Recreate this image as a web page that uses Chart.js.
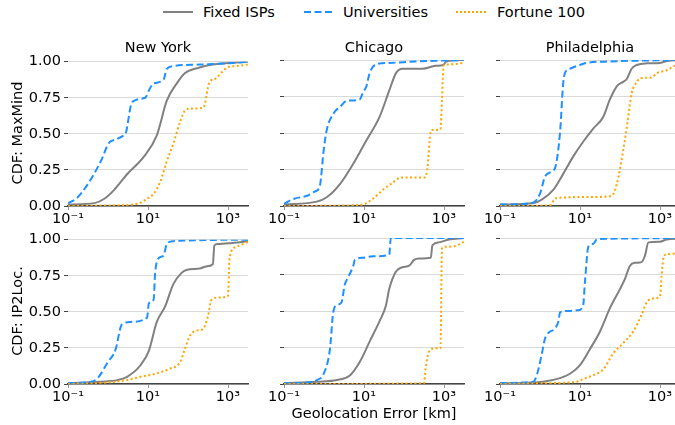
<!DOCTYPE html>
<html>
<head>
<meta charset="utf-8">
<script src="https://cdn.jsdelivr.net/npm/chart.js@4.4.1/dist/chart.umd.min.js"></script>
<style>
    body { margin: 0; width: 675px; height: 425px; overflow: hidden; background: #fff; position: relative; font-family: "DejaVu Sans", sans-serif; }
    canvas { position: absolute; }
    .txt { position: absolute; font-size: 14.5px; color: #000; white-space: nowrap; line-height: 1; transform: translate(-50%, -50%); }
    .ylab { transform: translate(-50%, -50%) rotate(-90deg); }
    .leg { position: absolute; font-size: 14.5px; color: #000; line-height: 1; top: 5px; white-space: nowrap; }
    svg.legline { position: absolute; top: 6px; }
</style>
</head>
<body>

<svg class="legline" style="left:163px" width="30" height="12"><line x1="0" y1="6" x2="30" y2="6" stroke="#808080" stroke-width="2"/></svg>
<div class="leg" style="left:203px">Fixed ISPs</div>
<svg class="legline" style="left:304px" width="30" height="12"><line x1="0" y1="6" x2="30" y2="6" stroke="#1e90ff" stroke-width="2" stroke-dasharray="7,3.5"/></svg>
<div class="leg" style="left:343px">Universities</div>
<svg class="legline" style="left:456px" width="30" height="12"><line x1="0" y1="6" x2="30" y2="6" stroke="#ffa500" stroke-width="2" stroke-dasharray="2,2"/></svg>
<div class="leg" style="left:497px">Fortune 100</div>

<script>
// Geolocation error CDFs: rows = database, columns = city
const cities = ['New York', 'Chicago', 'Philadelphia'];
const databases = ['MaxMind', 'IP2Loc.'];
const seriesNames = ['Fixed ISPs', 'Universities', 'Fortune 100'];
const xTickValues = [0.1, 10, 1000];
const xTickLabels = ['10⁻¹', '10¹', '10³'];
const yTickValues = [0, 0.25, 0.5, 0.75, 1];
const xMin = 0.1, xMax = 3162;

// [error km, CDF]
const nyMaxIsp = [[0.1,.01],[0.46,.02],[0.81,.05],[1.41,.11],[3.0,.22],[7.8,.34],[16.6,.49],[29.5,.73],[52.5,.85],[83,.92],[195,.96],[417,.98],[3162,1]];
const nyMaxUni = [[0.1,.02],[0.16,.05],[0.31,.15],[0.66,.31],[1.07,.44],[1.55,.46],[2.5,.49],[2.75,.5],[4.0,.72],[8.5,.75],[10.5,.8],[12.6,.84],[13.8,.85],[24.5,.875],[29.5,.95],[42.7,.97],[195,.98],[1070,.99],[3162,1]];
const nyMaxF100 = [[0.1,0],[1.7,.005],[5.4,.015],[9.5,.05],[13.8,.085],[20,.165],[29.5,.31],[42.7,.43],[63,.58],[83,.66],[112,.675],[240,.68],[347,.86],[468,.88],[955,.96],[1585,.97],[3162,.98]];

const chiMaxIsp = [[0.1,.01],[0.66,.03],[1.17,.06],[2.5,.15],[5.4,.29],[11.5,.45],[24.5,.61],[42.7,.79],[63,.91],[91,.94],[288,.94],[617,.96],[955,.966],[1150,.99],[3162,1]];
const chiMaxUni = [[0.1,.015],[0.18,.05],[0.38,.07],[0.6,.1],[0.79,.14],[0.98,.38],[1.17,.52],[1.7,.63],[2.75,.69],[3.6,.72],[7.8,.73],[9.5,.78],[11.5,.82],[13.8,.91],[20,.97],[42.7,.98],[195,.99],[617,.995],[3162,1]];
const chiMaxF100 = [[0.1,0],[5.4,.005],[10.5,.015],[16.6,.05],[29.5,.11],[52.5,.16],[83,.195],[316,.195],[380,.245],[457,.5],[500,.52],[813,.525],[891,.73],[977,.965],[1320,.97],[3162,.98]];

const phiMaxIsp = [[0.1,.01],[0.68,.02],[1.2,.05],[2.14,.11],[3.8,.22],[6.8,.34],[12,.44],[21.4,.53],[38,.61],[56,.73],[83,.82],[120,.85],[148,.87],[195,.94],[263,.966],[468,.977],[1000,.98],[1585,.995],[3162,1]];
const phiMaxUni = [[0.1,.01],[0.47,.015],[0.74,.03],[1.0,.085],[1.33,.2],[1.78,.23],[2.37,.26],[3.16,.5],[3.8,.84],[4.2,.91],[5.6,.94],[10,.966],[14.8,.98],[56,.99],[3162,1]];
const phiMaxF100 = [[0.1,0],[1.78,.005],[2.37,.05],[3.16,.057],[21.4,.062],[62,.07],[83,.15],[120,.38],[148,.54],[195,.77],[263,.85],[316,.875],[617,.88],[832,.91],[1480,.93],[2140,.955],[3162,.97]];

const nyIpIsp = [[0.1,.005],[0.66,.016],[1.7,.027],[3.0,.05],[6.5,.13],[10.5,.23],[16.6,.43],[27,.54],[42.7,.69],[69,.77],[91,.79],[195,.8],[288,.815],[417,.83],[457,.96],[550,.97],[1050,.975],[3162,.99]];
const nyIpUni = [[0.1,.005],[0.38,.016],[0.55,.04],[0.98,.15],[1.55,.24],[2.1,.4],[2.5,.42],[3.6,.43],[9.5,.46],[10.5,.56],[13.8,.585],[15.1,.77],[18.2,.87],[24.5,.89],[29.5,.97],[42.7,.99],[3162,1]];
const nyIpF100 = [[0.1,0],[0.46,.005],[3.0,.027],[6.5,.05],[16.6,.073],[35.5,.107],[63,.15],[83,.24],[112,.335],[162,.37],[234,.38],[316,.47],[380,.58],[617,.6],[1000,.61],[1100,.88],[1585,.95],[3162,.985]];

const chiIpIsp = [[0.1,.005],[0.66,.016],[2.1,.027],[4.5,.06],[7.8,.15],[13.8,.29],[24.5,.43],[35.5,.54],[42.7,.65],[63,.77],[91,.8],[135,.81],[178,.85],[240,.86],[468,.865],[513,.95],[741,.97],[1320,.99],[3162,1]];
const chiIpUni = [[0.1,.005],[0.38,.01],[0.66,.027],[0.98,.07],[1.41,.24],[1.7,.49],[2.1,.54],[2.75,.56],[3.3,.68],[4.0,.73],[5.4,.81],[5.9,.85],[9.5,.865],[16.6,.875],[42.7,.885],[46.8,1],[3162,1]];
const chiIpF100 = [[0.1,0],[316,.005],[347,.107],[417,.22],[617,.245],[813,.245],[891,.93],[1100,.94],[1900,.945],[3162,.975]];

const phiIpIsp = [[0.1,.005],[1.2,.016],[3.16,.04],[5.6,.07],[10,.13],[17.8,.24],[31.6,.36],[56,.52],[100,.65],[133,.72],[178,.81],[237,.83],[347,.835],[422,.88],[513,.97],[1000,.975],[1480,.99],[3162,.995]];
const phiIpUni = [[0.1,.005],[0.38,.01],[0.68,.016],[0.83,.06],[1.1,.2],[1.33,.31],[1.62,.35],[2.37,.38],[2.9,.43],[3.16,.49],[4.7,.5],[9.1,.505],[12,.54],[13.3,.7],[16.2,.94],[21.4,.96],[26.3,.99],[46.8,.995],[3162,1]];
const phiIpF100 = [[0.1,0],[1.2,.005],[8.3,.016],[12,.034],[21.4,.06],[38,.1],[68,.21],[120,.28],[214,.36],[347,.475],[468,.56],[676,.585],[1000,.6],[1100,.745],[1260,.88],[1780,.89],[3162,.9]];

const panels = [
    [nyMaxIsp, nyMaxUni, nyMaxF100], [chiMaxIsp, chiMaxUni, chiMaxF100], [phiMaxIsp, phiMaxUni, phiMaxF100],
    [nyIpIsp, nyIpUni, nyIpF100], [chiIpIsp, chiIpUni, chiIpF100], [phiIpIsp, phiIpUni, phiIpF100]
];

const cores = ['#808080', '#1e90ff', '#ffa500'];
const tracos = [[], [7, 3.5], [2, 2.5]];

// layout (px)
const plotLefts = [68, 284, 500];
const plotTops = [60, 238];
const plotW = 180, plotH = 146;
const padTop = 10, padRight = 12, padBottom = 32;
const fonte = { family: '"DejaVu Sans", sans-serif', size: 14.5 };

function addText(txt, cx, cy, cls) {
    const d = document.createElement('div');
    d.className = 'txt' + (cls ? ' ' + cls : '');
    d.textContent = txt;
    d.style.left = cx + 'px';
    d.style.top = cy + 'px';
    document.body.appendChild(d);
}

function criarPainel(row, col) {
    const padLeft = col === 0 ? 68 : 20;
    const cv = document.createElement('canvas');
    const w = padLeft + plotW + padRight, h = padTop + plotH + padBottom;
    cv.width = w; cv.height = h;
    cv.style.width = w + 'px'; cv.style.height = h + 'px';
    cv.style.left = (plotLefts[col] - padLeft) + 'px';
    cv.style.top = (plotTops[row] - padTop) + 'px';
    document.body.appendChild(cv);

    const dados = panels[row * 3 + col];
    new Chart(cv.getContext('2d'), {
        type: 'line',
        data: {
            datasets: dados.map((serie, i) => ({
                label: seriesNames[i],
                data: serie.map(p => ({ x: p[0], y: p[1] })),
                borderColor: cores[i],
                borderWidth: 2,
                borderDash: tracos[i],
                pointRadius: 0,
                cubicInterpolationMode: 'monotone',
                fill: false,
                order: 3 - i
            }))
        },
        options: {
            responsive: false,
            animation: false,
            events: [],
            layout: { padding: { top: padTop, right: padRight, left: 0, bottom: 0 } },
            plugins: { legend: { display: false }, tooltip: { enabled: false } },
            scales: {
                x: {
                    type: 'logarithmic',
                    min: xMin, max: xMax,
                    afterBuildTicks: s => { s.ticks = xTickValues.map(v => ({ value: v, major: true })); },
                    afterFit: s => { s.height = padBottom; },
                    ticks: {
                        autoSkip: false, maxRotation: 0, padding: 1,
                        color: '#000', font: fonte,
                        callback: v => xTickLabels[xTickValues.indexOf(v)]
                    },
                    grid: { drawOnChartArea: false, drawTicks: true, tickLength: 4, tickColor: '#999' },
                    border: { display: true, color: '#444', width: 1.5 }
                },
                y: {
                    min: 0, max: 1,
                    afterBuildTicks: s => { s.ticks = yTickValues.map(v => ({ value: v })); },
                    afterFit: s => { s.width = padLeft; },
                    ticks: {
                        display: col === 0, padding: 3,
                        color: '#000', font: fonte,
                        callback: v => v.toFixed(2)
                    },
                    grid: { color: '#d9d9d9', lineWidth: 1, drawTicks: true, tickLength: 4, tickColor: '#444' },
                    border: { display: false }
                }
            }
        }
    });
}

for (let r = 0; r < 2; r++) {
    for (let c = 0; c < 3; c++) criarPainel(r, c);
}

cities.forEach((nome, c) => addText(nome, plotLefts[c] + plotW / 2, 47));
databases.forEach((db, r) => addText('CDF: ' + db, 17, plotTops[r] + plotH / 2, 'ylab'));
addText('Geolocation Error [km]', plotLefts[1] + plotW / 2, 413);
</script>
</body>
</html>
